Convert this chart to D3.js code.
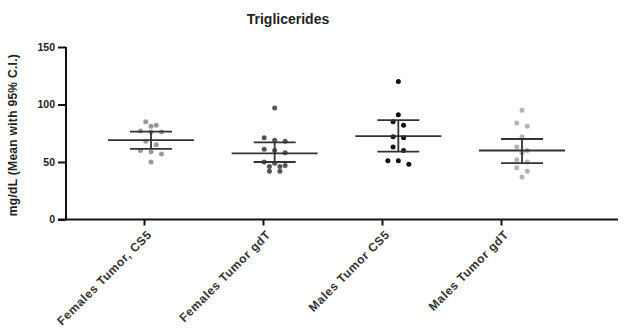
<!DOCTYPE html>
<head>
  <meta charset="utf-8">
  <script src="https://d3js.org/d3.v7.min.js"></script>
</head>
<body>
  <div id="chart"></div>

  <script>
    var width = 625;
    var height = 335;

    // groups along the x axis
    var categories = ['Females Tumor, CS5', 'Females Tumor gdT', 'Males Tumor CS5', 'Males Tumor gdT'];

    // individual values (mg/dL)
    var femalesCS5 = [85, 82, 81, 77, 76, 76, 68, 65, 60, 59, 57, 50];
    var femalesGdT = [97, 71, 69, 68, 61, 60, 58, 50, 49, 47, 46, 46, 42, 42];
    var malesCS5 = [120, 91, 85, 82, 72, 71, 63, 60, 51, 51, 48];
    var malesGdT = [95, 84, 81, 72, 63, 60, 58, 52, 50, 45, 42, 37];

    // mean and 95% C.I. drawn on each group
    var means = [69, 57.5, 72.5, 60];
    var ciLow = [61.5, 50, 59, 49];
    var ciHigh = [76.5, 67, 86.5, 70];

    var yTicks = [0, 50, 100, 150];

    var series = [femalesCS5, femalesGdT, malesCS5, malesGdT];
    var dotColors = ['#9a9a9a', '#555555', '#111111', '#b4b4b4'];

    var font = 'Liberation Sans, Arial, sans-serif';

    var svg = d3.select('#chart')
      .append('svg')
        .attr('width', width)
        .attr('height', height);

    var y = d3.scaleLinear().domain([0, 150]).range([219.5, 47]);

    // tick positions of the axis and the (slightly shifted) data columns
    var xTick = d3.scalePoint().domain(categories).range([144, 501]);
    var xData = d3.scalePoint().domain(categories).range([151, 522]);

    var axisLeft = 66;
    var axisRight = 618;

    // title
    svg.append('text')
      .attr('x', 288)
      .attr('y', 24)
      .attr('text-anchor', 'middle')
      .attr('font-family', font)
      .attr('font-weight', 'bold')
      .attr('font-size', 14)
      .attr('fill', '#222')
      .text('Triglicerides');

    // y axis
    var yAxis = d3.axisLeft(y).tickValues(yTicks).tickSize(8).tickPadding(3);
    var gy = svg.append('g')
      .attr('transform', 'translate(' + axisLeft + ',0)')
      .call(yAxis);
    gy.select('.domain').attr('d', 'M0,' + y(150) + 'V' + y(0)).attr('stroke', '#111').attr('stroke-width', 2);
    gy.selectAll('.tick line').attr('stroke', '#111').attr('stroke-width', 2);
    gy.selectAll('.tick text')
      .attr('font-family', font)
      .attr('font-weight', 'bold')
      .attr('font-size', 10.5)
      .attr('fill', '#222');

    svg.append('text')
      .attr('transform', 'translate(17,' + 135 + ') rotate(-90)')
      .attr('text-anchor', 'middle')
      .attr('font-family', font)
      .attr('font-weight', 'bold')
      .attr('font-size', 12)
      .attr('letter-spacing', 0.3)
      .attr('fill', '#222')
      .text('mg/dL (Mean with 95% C.I.)');

    // x axis
    var xAxis = d3.axisBottom(xTick).tickSize(6).tickPadding(4);
    var gx = svg.append('g')
      .attr('transform', 'translate(0,' + y(0) + ')')
      .call(xAxis);
    gx.select('.domain').attr('d', 'M' + (axisLeft - 8) + ',0H' + axisRight).attr('stroke', '#111').attr('stroke-width', 2);
    gx.selectAll('.tick line').attr('stroke', '#111').attr('stroke-width', 2);
    gx.selectAll('.tick text')
      .attr('text-anchor', 'end')
      .attr('transform', 'translate(5,13) rotate(-45)')
      .attr('dy', '0.35em')
      .attr('y', 0)
      .attr('x', 0)
      .attr('font-family', font)
      .attr('font-weight', 'bold')
      .attr('font-size', 12)
      .attr('letter-spacing', 0.6)
      .attr('fill', '#333');

    // spread points with close values side by side
    function scatterOffsets(values) {
      var sorted = values.slice().sort((a, b) => b - a);
      var rows = [];
      sorted.forEach(function(v) {
        var row = rows[rows.length - 1];
        if (row && row[0] - v <= 3.5 && row.length < 4) row.push(v);
        else rows.push([v]);
      });
      var out = [];
      rows.forEach(function(row) {
        row.forEach(function(v, i) {
          out.push({value: v, dx: (i - (row.length - 1) / 2) * 10.5});
        });
      });
      return out;
    }

    series.forEach(function(values, i) {
      var cx = xData(categories[i]);
      var g = svg.append('g');

      g.selectAll('circle')
        .data(scatterOffsets(values))
        .join('circle')
          .attr('cx', d => cx + d.dx)
          .attr('cy', d => y(d.value))
          .attr('r', 2.5)
          .attr('fill', dotColors[i]);

      // mean line
      g.append('line')
        .attr('x1', cx - 43).attr('x2', cx + 43)
        .attr('y1', y(means[i])).attr('y2', y(means[i]))
        .attr('stroke', '#333').attr('stroke-width', 1.8);

      // C.I. whisker
      g.append('line')
        .attr('x1', cx).attr('x2', cx)
        .attr('y1', y(ciLow[i])).attr('y2', y(ciHigh[i]))
        .attr('stroke', '#333').attr('stroke-width', 1.8);
      [ciLow[i], ciHigh[i]].forEach(function(v) {
        g.append('line')
          .attr('x1', cx - 21).attr('x2', cx + 21)
          .attr('y1', y(v)).attr('y2', y(v))
          .attr('stroke', '#333').attr('stroke-width', 1.8);
      });
    });
  </script>
</body>

<style>
  body {
    margin: 0;
    background-color: #fff;
  }
</style>
